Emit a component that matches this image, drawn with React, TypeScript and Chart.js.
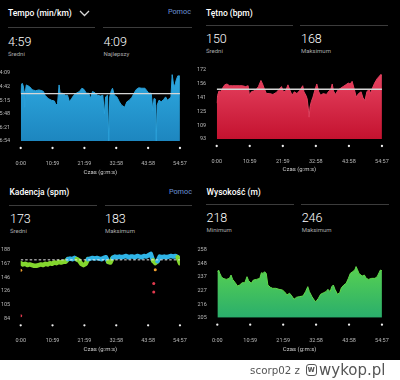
import React, { useEffect, useRef } from "react";
import { Chart, registerables } from "chart.js";
Chart.register(...registerables);

// ---------- data ----------
const timeTickValues = [0, 659, 1319, 1978, 2638, 3297];
const timeTickLabels = ["0:00", "10:59", "21:59", "32:58", "43:58", "54:57"];

// Tempo (seconds per km)
const tempoTimes = [0, 13, 32, 52, 71, 84, 97, 116, 149, 181, 213, 246, 310, 375, 440, 472, 504, 569, 634, 698, 731, 763, 795, 815, 860, 925, 970, 1009, 1054, 1099, 1151, 1215, 1267, 1312, 1358, 1409, 1442, 1487, 1539, 1590, 1655, 1700, 1733, 1758, 1797, 1823, 1843, 1875, 1901, 1940, 1991, 2043, 2088, 2153, 2198, 2250, 2302, 2347, 2392, 2444, 2508, 2573, 2612, 2651, 2702, 2735, 2760, 2786, 2806, 2825, 2864, 2909, 2961, 3000, 3039, 3077, 3110, 3136, 3161, 3187, 3220, 3252, 3284, 3297];
const tempoValues = [298, 278, 274, 280, 294, 332, 294, 278, 280, 282, 286, 290, 292, 290, 292, 294, 303, 311, 315, 317, 327, 323, 278, 298, 298, 303, 303, 319, 311, 303, 298, 294, 286, 289, 298, 298, 311, 294, 297, 303, 305, 303, 348, 307, 303, 414, 307, 292, 286, 303, 307, 319, 327, 332, 319, 315, 308, 298, 289, 285, 286, 286, 292, 298, 298, 340, 311, 312, 414, 327, 315, 319, 313, 307, 315, 311, 308, 253, 274, 282, 266, 256, 256, 257];
const tempoAvg = 299;
const tempoTickValues = [249, 282, 315, 348, 381, 414];
const tempoTickLabels = ["4:09", "4:42", "5:15", "5:48", "6:21", "6:54"];

// Heart rate (bpm)
const heartTimes = [0, 19, 45, 77, 115, 160, 205, 256, 320, 384, 448, 512, 576, 627, 653, 691, 736, 781, 832, 883, 915, 947, 992, 1056, 1120, 1184, 1248, 1293, 1332, 1376, 1421, 1460, 1504, 1549, 1600, 1665, 1716, 1741, 1780, 1805, 1831, 1844, 1863, 1889, 1921, 1959, 1997, 2036, 2074, 2125, 2189, 2241, 2273, 2305, 2330, 2369, 2420, 2471, 2522, 2574, 2625, 2663, 2702, 2740, 2785, 2830, 2881, 2919, 2958, 2996, 3041, 3073, 3105, 3150, 3201, 3246, 3278, 3297];
const heartValues = [134, 143, 148, 147, 151, 155, 156, 154, 154, 154, 154, 154, 153, 154, 143, 147, 148, 149, 153, 160, 156, 151, 145, 145, 144, 146, 150, 153, 147, 148, 155, 149, 143, 147, 145, 149, 154, 147, 143, 139, 126, 118, 130, 136, 141, 149, 156, 147, 143, 145, 144, 148, 149, 156, 148, 144, 149, 151, 153, 155, 157, 156, 159, 151, 141, 145, 147, 140, 137, 147, 150, 145, 151, 157, 162, 165, 167, 165];
const heartAvg = 150;
const heartTickValues = [93, 108.8, 124.6, 140.4, 156.2, 172];
const heartTickLabels = ["93", "109", "125", "141", "156", "172"];

// Cadence (spm), evenly sampled over the run
const cadenceValues = [168, 166, 167, 165, 166, 165, 164, 164, 165, 166, 165, 167, 166, 168, 167, 169, 168, 170, 169, 170, 170, 174, 175, 174, 176, 174, 172, 167, 165, 167, 174, 175, 176, 175, 176, 175, 174, 176, 177, 170, 169, 176, 178, 177, 178, 177, 178, 179, 177, 178, 178, 177, 179, 178, 177, 179, 178, 180, 182, 172, 168, 171, 178, 177, 178, 177, 178, 179, 178, 179, 177, 168];
const cadenceOutlierTimes = [0, 0, 2786, 2754, 2754];
const cadenceOutlierValues = [157, 88, 158, 137, 124];
const cadenceAvg = 173;
const cadenceTickValues = [84, 104.8, 125.6, 146.4, 167.2, 188];
const cadenceTickLabels = ["84", "105", "126", "146", "167", "188"];

// Elevation (m)
const elevTimes = [0, 26, 51, 83, 115, 179, 243, 275, 307, 359, 403, 448, 499, 551, 595, 627, 679, 723, 787, 851, 883, 915, 947, 980, 1012, 1063, 1108, 1172, 1236, 1300, 1344, 1396, 1447, 1492, 1536, 1588, 1652, 1716, 1767, 1812, 1844, 1895, 1940, 1972, 2023, 2068, 2132, 2177, 2215, 2260, 2292, 2324, 2356, 2407, 2452, 2484, 2535, 2580, 2625, 2663, 2708, 2753, 2778, 2804, 2836, 2900, 2945, 2983, 3028, 3092, 3156, 3201, 3239, 3265, 3297];
const elevValues = [241, 242.3, 239.7, 237.1, 235.8, 235, 235.8, 238.4, 235, 232.4, 229.8, 230.6, 232.4, 232.4, 237.1, 234, 231.9, 234.5, 235, 235.8, 240.2, 239.7, 241, 239.7, 230.6, 228.8, 228, 228, 227.2, 226.7, 225.4, 222.8, 224.2, 222, 219.4, 221, 221.5, 222, 225.4, 229.3, 225.4, 221.5, 218.8, 217.5, 220.1, 223.3, 224.6, 225.4, 227.2, 225.4, 229.3, 230.6, 227.2, 223.3, 224.6, 228.4, 230.6, 231.9, 235.8, 239.7, 241, 242.3, 245, 242.9, 239.7, 237.6, 238.4, 235.8, 235, 235.8, 235.8, 237.1, 240.2, 242.3, 241.8];
const elevTickValues = [205, 215.6, 226.2, 236.8, 247.4, 258];
const elevTickLabels = ["205", "216", "227", "237", "248", "258"];

const TIME_MAX = 3297;
const FONT = "Roboto, 'Noto Sans', sans-serif";

// ---------- helpers ----------
function labelFor(values: number[], labels: string[], v: number) {
  const i = values.findIndex((x) => Math.abs(x - v) < 0.01);
  return i >= 0 ? labels[i] : "";
}

function cadColor(v: number) {
  if (v >= 183.5) return "#a05cd6";
  if (v >= 173.5) return "#2fb4e6";
  if (v >= 162.5) return "#84d62e";
  if (v >= 150.5) return "#f0a030";
  return "#e23a4e";
}

function gradient(top: string, bottom: string) {
  return (ctx: any) => {
    const chart = ctx.chart;
    const a = chart.chartArea;
    if (!a) return top;
    const g = chart.ctx.createLinearGradient(0, a.top, 0, a.bottom);
    g.addColorStop(0, top);
    g.addColorStop(1, bottom);
    return g;
  };
}

const tickDots = {
  id: "tickDots",
  afterDraw(chart: any) {
    const s = chart.scales.x;
    const ctx = chart.ctx;
    ctx.save();
    ctx.fillStyle = "#f0f0f0";
    s.ticks.forEach((t: any) => {
      const px = s.getPixelForValue(t.value);
      ctx.beginPath();
      ctx.arc(px, chart.chartArea.bottom + 7, 1.15, 0, Math.PI * 2);
      ctx.fill();
    });
    ctx.restore();
  },
};

function avgLine(v: number, dashed = false) {
  return {
    data: [{ x: 0, y: v }, { x: TIME_MAX, y: v }],
    borderColor: dashed ? "#e8e8e8" : "#d6d6d6",
    borderWidth: dashed ? 1 : 1.4,
    borderDash: dashed ? [2.5, 2] : [],
    pointRadius: 0,
    fill: false,
  };
}

type Spec = {
  box: number[];
  plot: number[];
  czasY: number;
  yTickValues: number[];
  yTickLabels: string[];
  reverse?: boolean;
  datasets: any[];
};

function makeChart(canvas: HTMLCanvasElement, spec: Spec) {
  const [bx, by, bw, bh] = spec.box;
  const [L, T, R, B] = spec.plot;
  const tickFont = { family: FONT, size: 5.5, lineHeight: 1.2 };
  const titleFont = { family: FONT, size: 6, lineHeight: 1.2 };
  return new Chart(canvas, {
    type: "line",
    data: { datasets: spec.datasets },
    options: {
      responsive: false,
      animation: false,
      devicePixelRatio: 1,
      layout: { padding: { left: 0, top: T - by, right: bx + bw - R, bottom: 0 } },
      plugins: { legend: { display: false }, tooltip: { enabled: false } },
      elements: { point: { radius: 0 }, line: { tension: 0 } },
      scales: {
        x: {
          type: "linear",
          min: 0,
          max: TIME_MAX,
          grid: { display: false },
          border: { display: false },
          afterBuildTicks: (s: any) => {
            s.ticks = timeTickValues.map((v) => ({ value: v }));
          },
          afterFit: (s: any) => {
            s.height = by + bh - B;
          },
          ticks: {
            autoSkip: false,
            maxRotation: 0,
            minRotation: 0,
            padding: 11.2,
            color: "#b8b8b8",
            font: tickFont,
            callback: (v: any) => labelFor(timeTickValues, timeTickLabels, Number(v)),
          },
          title: {
            display: true,
            text: "Czas (g:m:s)",
            color: "#cfcfcf",
            font: titleFont,
            padding: { top: 0, bottom: by + bh - spec.czasY - 3.6 },
          },
        },
        y: {
          type: "linear",
          reverse: !!spec.reverse,
          min: spec.yTickValues[0],
          max: spec.yTickValues[spec.yTickValues.length - 1],
          grid: { display: false },
          border: { display: false },
          afterBuildTicks: (s: any) => {
            s.ticks = spec.yTickValues.map((v) => ({ value: v }));
          },
          afterFit: (s: any) => {
            s.width = L - bx;
          },
          ticks: {
            autoSkip: false,
            padding: 2.5,
            color: "#b8b8b8",
            font: tickFont,
            callback: (v: any) => labelFor(spec.yTickValues, spec.yTickLabels, Number(v)),
          },
        },
      },
    } as any,
    plugins: [tickDots],
  });
}

const pts = (xs: number[], ys: number[]) => xs.map((x, i) => ({ x, y: ys[i] }));

const SPECS: Spec[] = [
  {
    box: [0, 60, 198, 120],
    plot: [20.7, 73, 190.7, 141],
    czasY: 172,
    yTickValues: tempoTickValues,
    yTickLabels: tempoTickLabels,
    reverse: true,
    datasets: [
      avgLine(tempoAvg),
      {
        data: pts(tempoTimes, tempoValues),
        borderColor: "#2a9fd8",
        borderWidth: 1,
        pointRadius: 0,
        fill: "start",
        backgroundColor: gradient("#2eaae2", "#1d86bf"),
      },
    ],
  },
  {
    box: [196, 60, 204, 120],
    plot: [216.7, 70, 388, 139],
    czasY: 169,
    yTickValues: heartTickValues,
    yTickLabels: heartTickLabels,
    datasets: [
      avgLine(heartAvg),
      {
        data: pts(heartTimes, heartValues),
        borderColor: "#e2405e",
        borderWidth: 1,
        pointRadius: 0,
        fill: "start",
        backgroundColor: gradient("#e84664", "#c4122f"),
      },
    ],
  },
  {
    box: [0, 240, 198, 120],
    plot: [20.7, 250, 192.7, 318.3],
    czasY: 349.3,
    yTickValues: cadenceTickValues,
    yTickLabels: cadenceTickLabels,
    datasets: [
      avgLine(cadenceAvg, true),
      {
        data: pts(cadenceOutlierTimes, cadenceOutlierValues),
        showLine: false,
        pointRadius: 1.5,
        pointBorderWidth: 0,
        pointBackgroundColor: cadenceOutlierValues.map(cadColor),
      },
      {
        data: cadenceValues.map((v, i) => ({ x: (i * TIME_MAX) / (cadenceValues.length - 1), y: v })),
        borderWidth: 4.5,
        borderColor: "#84d62e",
        borderJoinStyle: "round",
        borderCapStyle: "round",
        pointRadius: 0,
        fill: false,
        segment: {
          borderColor: (c: any) => cadColor((c.p0.parsed.y + c.p1.parsed.y) / 2),
        },
      },
    ],
  },
  {
    box: [196, 240, 204, 120],
    plot: [217.3, 250, 389, 317.7],
    czasY: 349.3,
    yTickValues: elevTickValues,
    yTickLabels: elevTickLabels,
    datasets: [
      {
        data: pts(elevTimes, elevValues),
        borderColor: "#62d84a",
        borderWidth: 1,
        pointRadius: 0,
        fill: "start",
        backgroundColor: gradient("#66dc48", "#2aae6c"),
      },
    ],
  },
];

// ---------- components ----------
function Txt(p: { x?: number; right?: number; cy: number; size: number; color?: string; weight?: number; family?: string; children: any }) {
  const st: any = {
    position: "absolute",
    top: p.cy - p.size * 0.6,
    fontSize: p.size,
    lineHeight: `${p.size * 1.2}px`,
    color: p.color || "#fff",
    fontWeight: p.weight || 400,
    fontFamily: p.family || FONT,
    whiteSpace: "nowrap",
  };
  if (p.right !== undefined) st.right = 400 - p.right;
  else st.left = p.x;
  return <div style={st}>{p.children}</div>;
}

function Rule(p: { x1: number; x2: number; y: number }) {
  return <div style={{ position: "absolute", left: p.x1, top: p.y, width: p.x2 - p.x1, height: 1, background: "#3c3c3c" }} />;
}

function ChartCanvas({ spec }: { spec: Spec }) {
  const ref = useRef<HTMLCanvasElement>(null);
  useEffect(() => {
    if (!ref.current) return;
    const c = makeChart(ref.current, spec);
    return () => c.destroy();
  }, [spec]);
  const [x, y, w, h] = spec.box;
  return (
    <canvas
      ref={ref}
      width={w}
      height={h}
      style={{ position: "absolute", left: x, top: y, width: w, height: h }}
    />
  );
}

export default function App() {
  const gray = "#a8a8a8";
  const blue = "#6b93d6";
  return (
    <div style={{ position: "absolute", left: 0, top: 0, width: 400, height: 380, background: "#000", overflow: "hidden", fontFamily: FONT }}>
      {/* Tempo panel */}
      <Txt x={8} cy={12.7} size={8.5} weight={500}>Tempo (min/km)</Txt>
      <svg style={{ position: "absolute", left: 79, top: 9.5 }} width={11} height={7}>
        <polyline points="1,1 5.5,5.5 10,1" fill="none" stroke="#d8d8d8" strokeWidth={1.3} />
      </svg>
      <Txt right={191} cy={12.7} size={7.3} color={blue}>Pomoc</Txt>
      <Rule x1={8} x2={95} y={26.5} />
      <Rule x1={103} x2={192} y={26.5} />
      <Txt x={8} cy={41.7} size={12.5} weight={300}>4:59</Txt>
      <Txt x={8} cy={53.3} size={6} color={gray}>Średni</Txt>
      <Txt x={103.5} cy={41.7} size={12.5} weight={300}>4:09</Txt>
      <Txt x={103.5} cy={53.3} size={6} color={gray}>Najlepszy</Txt>

      {/* Heart panel */}
      <Txt x={206} cy={12.7} size={8.5} weight={500}>Tętno (bpm)</Txt>
      <Rule x1={206} x2={293} y={25} />
      <Rule x1={300} x2={388} y={25} />
      <Txt x={206} cy={38} size={12.5} weight={300}>150</Txt>
      <Txt x={206} cy={51} size={6} color={gray}>Średni</Txt>
      <Txt x={301} cy={38} size={12.5} weight={300}>168</Txt>
      <Txt x={301} cy={51} size={6} color={gray}>Maksimum</Txt>

      {/* Cadence panel */}
      <Txt x={9.5} cy={192.3} size={8.5} weight={500}>Kadencja (spm)</Txt>
      <Txt right={192} cy={192.3} size={7.3} color={blue}>Pomoc</Txt>
      <Rule x1={9} x2={97} y={205} />
      <Rule x1={105} x2={192} y={205} />
      <Txt x={10} cy={218} size={12.5} weight={300}>173</Txt>
      <Txt x={10} cy={230.7} size={6} color={gray}>Średni</Txt>
      <Txt x={105} cy={218} size={12.5} weight={300}>183</Txt>
      <Txt x={105} cy={230.7} size={6} color={gray}>Maksimum</Txt>

      {/* Elevation panel */}
      <Txt x={206.5} cy={191.7} size={8.5} weight={500}>Wysokość (m)</Txt>
      <Rule x1={206} x2={294} y={204} />
      <Rule x1={301} x2={389} y={204} />
      <Txt x={206.5} cy={217} size={12.5} weight={300}>218</Txt>
      <Txt x={206.5} cy={230} size={6} color={gray}>Minimum</Txt>
      <Txt x={301.7} cy={217} size={12.5} weight={300}>246</Txt>
      <Txt x={301.7} cy={230} size={6} color={gray}>Maksimum</Txt>

      {SPECS.map((s, i) => (
        <ChartCanvas key={i} spec={s} />
      ))}

      {/* watermark strip */}
      <div style={{ position: "absolute", left: 0, top: 360, width: 400, height: 20, background: "#fff" }} />
      <Txt right={300} cy={370} size={10.3} color="#555" family="'DejaVu Sans', sans-serif">scorp02 z</Txt>
      <div style={{ position: "absolute", left: 305.5, top: 364, width: 9.5, height: 9.5, border: "1.5px solid #555", borderRadius: 3, color: "#555", fontSize: 8, lineHeight: "9px", textAlign: "center", fontWeight: 700, fontFamily: "'DejaVu Sans', sans-serif" }}>w</div>
      <Txt x={319} cy={369.5} size={15} color="#555" family="'DejaVu Sans', sans-serif">wykop.pl</Txt>
    </div>
  );
}
